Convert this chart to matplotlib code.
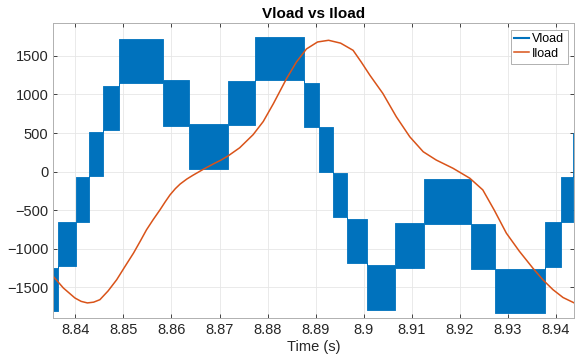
import numpy as np
import matplotlib
matplotlib.use("Agg")
import matplotlib.pyplot as plt

plt.rcParams["font.family"] = ["Liberation Sans", "DejaVu Sans"]

# Vload: PWM bands, one per switching level segment (time edges, low / high level)
seg_edges = [8.8354, 8.8363, 8.8401, 8.8429, 8.8457, 8.8491, 8.8582, 8.8637,
             8.8718, 8.8774, 8.8875, 8.8907, 8.8936, 8.8965, 8.9006, 8.9065,
             8.9125, 8.9223, 8.9273, 8.9378, 8.9410, 8.9435, 8.9440]
seg_lo = [-1809, -1227, -646, -52, 539, 1150, 590, 31, 603, 1190, 581, 0,
          -589, -1184, -1790, -1248, -676, -1261, -1830, -1240, -654, -52]
seg_hi = [-1248, -654, -65, 517, 1107, 1725, 1185, 612, 1176, 1750, 1150, 574,
          -21, -611, -1205, -667, -94, -676, -1255, -654, -73, 496]

# Iload: smooth current trace
t_i = [8.8354, 8.8375, 8.8399, 8.8412, 8.8425, 8.8438, 8.8451, 8.8468, 8.8486,
       8.8503, 8.8521, 8.8535, 8.8548, 8.8562, 8.8576, 8.8587, 8.8597, 8.8608,
       8.8618, 8.8632, 8.8645, 8.8666, 8.8687, 8.8703, 8.8718, 8.8742, 8.8770,
       8.8791, 8.8812, 8.8839, 8.8860, 8.8881, 8.8904, 8.8927, 8.8952, 8.8978,
       8.8995, 8.9013, 8.9040, 8.9068, 8.9096, 8.9124, 8.9151, 8.9186, 8.9221,
       8.9248, 8.9272, 8.9297, 8.9324, 8.9352, 8.9373, 8.9394, 8.9415, 8.9440]
i_load = [-1357, -1507, -1636, -1680, -1700, -1690, -1658, -1545, -1399,
          -1230, -1054, -900, -753, -620, -495, -390, -300, -220,
          -160, -95, -45, 30, 100, 150, 205, 310, 480,
          650, 880, 1200, 1420, 1590, 1680, 1702, 1665, 1572,
          1420, 1249, 1013, 711, 452, 258, 151, 44, -85,
          -236, -500, -796, -1030, -1248, -1400, -1528, -1630, -1705]

fig = plt.figure(figsize=(5.87, 3.64), dpi=100)
ax = fig.add_axes([0.0908, 0.126, 0.8872, 0.81])

lo = seg_lo + [seg_lo[-1]]
hi = seg_hi + [seg_hi[-1]]
ax.fill_between(seg_edges, lo, hi, step="post", color="#0072BD", lw=0.6,
                edgecolor="#0072BD")
ax.plot([], [], color="#0072BD", lw=1.5, label="Vload")
ax.plot(t_i, i_load, color="#D95319", lw=1.1, label="Iload")

ax.set_xlim(8.8354, 8.9438)
ax.set_ylim(-1897, 1922)
ax.set_xticks([8.84, 8.85, 8.86, 8.87, 8.88, 8.89, 8.90, 8.91, 8.92, 8.93, 8.94])
ax.set_xticklabels(["8.84", "8.85", "8.86", "8.87", "8.88", "8.89", "8.9",
                    "8.91", "8.92", "8.93", "8.94"])
ax.set_yticks([-1500, -1000, -500, 0, 500, 1000, 1500])
ax.tick_params(direction="in", top=True, right=True, labelsize=10.5,
               colors="#262626", length=3, width=0.6)
for s in ax.spines.values():
    s.set_color("#b0b0b0")
    s.set_linewidth(0.7)
ax.grid(True, color="#e6e6e6", lw=0.6)
ax.set_axisbelow(True)

ax.set_title("Vload vs Iload", fontsize=11, fontweight="bold", pad=4)
ax.set_xlabel("Time (s)", fontsize=10.5, color="#262626", labelpad=2)

leg = ax.legend(loc="upper right", fontsize=9, handlelength=1.2,
                handletextpad=0.2, borderpad=0.3, labelspacing=0.2,
                fancybox=False, framealpha=1, borderaxespad=0.5)
leg.get_frame().set_edgecolor("#b0b0b0")
leg.get_frame().set_linewidth(0.7)

fig.savefig("out.png", dpi=100)
